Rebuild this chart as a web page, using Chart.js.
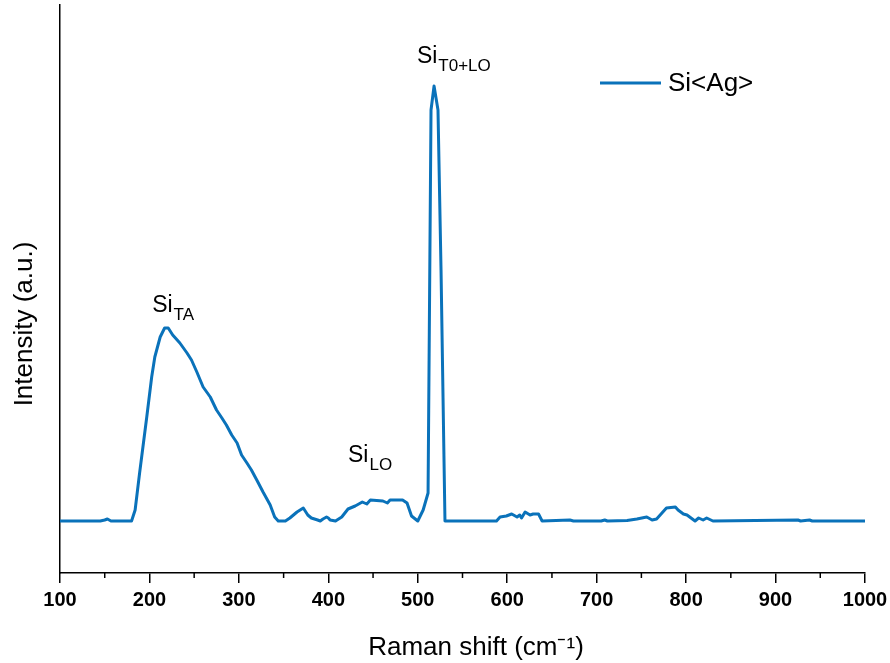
<!doctype html>
<html>
<head>
	<title>Raman Si&lt;Ag&gt;</title>
	<script src="https://cdn.jsdelivr.net/npm/chart.js@4.4.1"></script>
	<style>
	* { margin: 0; padding: 0; }
	body { background: white; }
	.chartBox { width: 890px; height: 663px; position: relative; }
	</style>
</head>
<body>
	<div class="chartBox">
		<canvas id="canvas_raman"></canvas>
	</div>
</body>

<script type="text/javascript">
	// Raman shift (cm-1) and intensity (a.u.)
	var shift = [
		100, 145, 150, 153, 157, 180, 184, 189, 197, 202.5, 206, 212, 217, 221, 226, 234, 242, 247, 253, 260,
		268, 275, 281, 286, 292, 298, 303, 309, 314, 320, 327, 335, 340, 344, 352, 357, 361, 365, 372, 377,
		381, 388, 391, 394, 398, 400, 402, 408, 415, 422, 430, 438, 443, 447, 461, 466, 469, 483, 488, 493,
		500, 506, 511.5, 514.8, 518.2, 522.6, 526, 530.4, 588, 592, 599, 605, 611, 614, 616, 620, 625.5, 629, 635, 639,
		670, 674, 705, 709, 712, 734, 745, 756, 762, 767, 773, 778, 788, 791, 797, 801, 810, 814, 819, 823,
		830, 925, 928, 938, 941, 1000
	];
	var intensity = [
		0, 0, 1, 2, 0, 0, 11, 48, 104, 144, 164, 184, 193, 193, 186, 178, 168, 161, 149, 134,
		124, 111, 103, 96, 86, 78, 66, 58, 51, 41, 29, 16, 4, 0, 0, 3, 6, 9, 13, 6,
		3, 1, 0, 2, 4, 3, 1, 0, 4, 12, 15, 19, 17, 21, 20, 18, 21, 21, 18, 5,
		0, 11, 28, 411, 435, 411, 251, 0, 0, 4, 5, 7, 4, 6, 3, 9, 6, 7, 7, 0,
		1, 0, 0, 1, 0, 0.5, 2, 4, 1, 2, 8, 13, 14, 11, 7, 6, 0, 3, 1, 3,
		0, 1, 0, 1, 0, 0
	];
	var seriesName = 'Si<Ag>';
	var xTicks = [100, 200, 300, 400, 500, 600, 700, 800, 900, 1000];
	var xTitle = 'Raman shift (cm\u207B\u00B9)';
	var yTitle = 'Intensity (a.u.)';

	// peak labels: [main, subscript, shift at left edge, intensity at baseline]
	var peakLabels = [
		['Si', 'TA', 203, 209],
		['Si', 'LO', 422, 59],
		['Si', 'T0+LO', 499, 458]
	];

	var lineColor = '#0A72BA';
	var fontFam = '"Liberation Sans", Arial, sans-serif';

	var points = shift.map(function(x, i) { return { x: x, y: intensity[i] }; });

	var extras = {
		id: 'extras',
		afterDraw: function(chart) {
			var ctx = chart.ctx;
			var xs = chart.scales.x, ys = chart.scales.y;
			var area = chart.chartArea;
			ctx.save();
			// minor ticks every 50
			ctx.strokeStyle = '#000';
			ctx.lineWidth = 1.5;
			for (var v = 150; v < 1000; v += 100) {
				var px = xs.getPixelForValue(v);
				ctx.beginPath();
				ctx.moveTo(px, area.bottom);
				ctx.lineTo(px, area.bottom + 5);
				ctx.stroke();
			}
			// axis titles (sit a bit off-centre in the original)
			ctx.fillStyle = '#000';
			ctx.font = '26px ' + fontFam;
			ctx.textAlign = 'center';
			ctx.textBaseline = 'middle';
			ctx.fillText(xTitle, 476, 648);
			ctx.save();
			ctx.translate(25, 324);
			ctx.rotate(-Math.PI / 2);
			ctx.fillText(yTitle, 0, 0);
			ctx.restore();
			// peak annotations
			ctx.textBaseline = 'alphabetic';
			ctx.textAlign = 'left';
			peakLabels.forEach(function(p) {
				var px = xs.getPixelForValue(p[2]);
				var py = ys.getPixelForValue(p[3]);
				ctx.font = '23px ' + fontFam;
				ctx.fillText(p[0], px, py);
				var w = ctx.measureText(p[0]).width;
				ctx.font = '17px ' + fontFam;
				ctx.fillText(p[1], px + w + 1, py + 8);
			});
			// legend
			ctx.strokeStyle = lineColor;
			ctx.lineWidth = 3;
			ctx.beginPath();
			ctx.moveTo(600, 83);
			ctx.lineTo(661, 83);
			ctx.stroke();
			ctx.font = '26px ' + fontFam;
			ctx.textBaseline = 'middle';
			ctx.fillText(seriesName, 668, 84);
			ctx.restore();
		}
	};

	const raman_config = {
		type: 'line',
		data: {
			datasets: [{
				label: seriesName,
				data: points,
				borderColor: lineColor,
				borderWidth: 3,
				borderJoinStyle: 'round',
				pointRadius: 0,
				tension: 0,
				fill: false
			}]
		},
		options: {
			responsive: true,
			maintainAspectRatio: false,
			animation: false,
			layout: { padding: { top: 5, right: 25, left: 0, bottom: 0 } },
			scales: {
				x: {
					type: 'linear',
					min: 100,
					max: 1000,
					afterFit: function(s) {
						s.height = 90;
						s.paddingLeft = 0;
						s.paddingRight = 0;
					},
					afterBuildTicks: function(s) {
						s.ticks = xTicks.map(function(v) { return { value: v }; });
					},
					border: { display: true, color: '#000', width: 1.5 },
					grid: {
						display: true,
						drawOnChartArea: false,
						drawTicks: true,
						tickLength: 10,
						color: '#000',
						lineWidth: 1.5
					},
					ticks: {
						autoSkip: false,
						maxRotation: 0,
						padding: 5,
						color: '#000',
						font: { family: fontFam, size: 20, weight: 'bold' },
						callback: function(value) { return String(value); }
					}
				},
				y: {
					min: -52,
					max: 516,
					afterFit: function(s) { s.width = 60; },
					border: { display: true, color: '#000', width: 1.5 },
					grid: { display: false },
					ticks: { display: false }
				}
			},
			plugins: {
				legend: { display: false },
				tooltip: { enabled: false }
			}
		},
		plugins: [extras]
	};

	var raman_Chart = new Chart(document.getElementById('canvas_raman'), raman_config);
</script>
</html>
